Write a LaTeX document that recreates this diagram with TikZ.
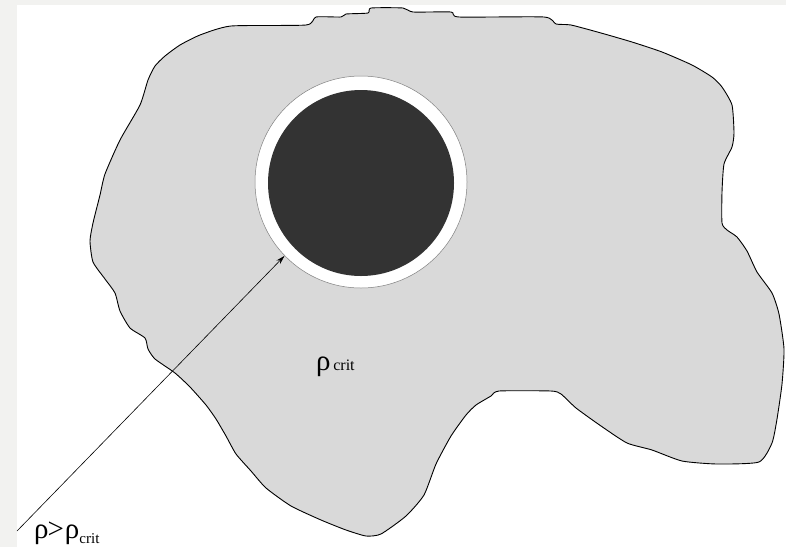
\documentclass[tikz,border=0pt]{standalone}
\usepackage{fontspec}
\setmainfont{Liberation Serif}
\usetikzlibrary{arrows.meta}
\definecolor{bgstrip}{HTML}{F2F2F0}
\definecolor{blobfill}{HTML}{D9D9D9}
\definecolor{core}{HTML}{333333}
\tikzset{
  blob/.style={fill=blobfill, draw=black, line width=0.9pt, line join=round},
  ringnode/.style={circle, fill=white, draw=gray, line width=0.5pt, minimum size=212pt, inner sep=0pt},
  corenode/.style={circle, fill=core, draw=none, minimum size=186pt, inner sep=0pt},
  lbl/.style={inner sep=0pt, anchor=base west, font=\fontsize{29}{30}\selectfont},
  pointer/.style={draw=black, line width=0.6pt, -{Stealth[length=9pt,width=5pt]}}
}
\begin{document}
\begin{tikzpicture}[x=1pt,y=-1pt]
\useasboundingbox (0,0) rectangle (786,547);
\fill[white] (0,0) rectangle (786,547);
\fill[bgstrip] (0,0) rectangle (786,5);
\fill[bgstrip] (0,0) rectangle (17,547);
\path[blob] plot[smooth cycle, tension=0.35] coordinates {
 (371,8) (403,8) (413,12) (451,12) (459,17) (544,17) (556,24) (571,25)
 (601,33) (632,42) (662,52) (692,65) (712,77) (722,87) (732,105) (734,133)
 (732,147) (724,164) (722,192) (722,223) (727,230) (737,237) (747,251)
 (757,272) (772,293) (779,314) (784,349) (782,384) (777,419) (772,443)
 (759,462) (717,464) (682,461) (652,450) (627,443) (601,426) (576,408)
 (561,394) (551,391) (499,391) (491,396) (476,405) (466,415) (451,436)
 (436,464) (424,495) (406,516) (381,534) (366,536) (346,530) (321,520)
 (291,506) (266,488) (251,471) (236,454) (226,436) (216,419) (206,405)
 (190,387) (175,373) (155,359) (148,349) (145,338) (130,328) (120,311)
 (115,293) (105,279) (93,262) (90,241) (93,223) (100,195) (105,174)
 (120,140) (140,105) (148,80) (155,66) (165,56) (180,45) (200,35)
 (231,26) (306,25) (316,17) (341,17) (346,14) (368,13) };
\node[ringnode] (ring) at (361,182) {};
\node[corenode] (core) at (361,183) {};
\coordinate (start) at (17,531);
\draw[pointer] (start) -- (ring.224);
\node[lbl] (inner) at (316,370) {ρ\raisebox{-0.5pt}{\fontsize{16}{17}\selectfont\,crit}};
\node[lbl] (outer) at (34,538) {ρ\kern-1pt>\kern1pt ρ\raisebox{-5pt}{\fontsize{15}{16}\selectfont crit}};
\end{tikzpicture}
\end{document}
